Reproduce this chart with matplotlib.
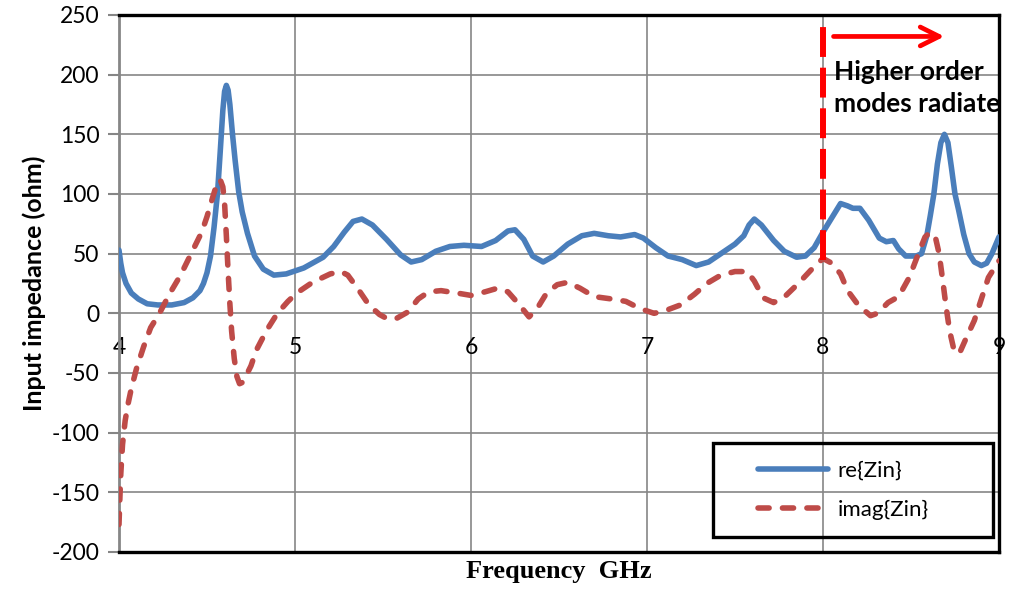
import numpy as np
import matplotlib.pyplot as plt
from matplotlib.patches import Rectangle

# --- data ---
freq_re = [4.00, 4.01, 4.02, 4.04, 4.07, 4.11, 4.16, 4.22, 4.30, 4.37, 4.42, 4.46, 4.48, 4.50,
           4.52, 4.54, 4.56, 4.575, 4.59, 4.60, 4.61, 4.62, 4.63, 4.645, 4.66, 4.68, 4.70, 4.73,
           4.77, 4.82, 4.88, 4.95, 5.05, 5.16, 5.22, 5.28, 5.33, 5.38, 5.44,
           5.52, 5.60, 5.66, 5.72, 5.80, 5.88, 5.96, 6.06, 6.14, 6.21, 6.25, 6.30, 6.35, 6.41,
           6.47, 6.55, 6.63, 6.70, 6.78, 6.85, 6.93, 6.98, 7.05, 7.12, 7.20, 7.28, 7.35, 7.42,
           7.50, 7.55, 7.58, 7.61, 7.65, 7.72, 7.78, 7.85, 7.90, 7.95, 8.00, 8.05, 8.10, 8.14,
           8.17, 8.21, 8.26, 8.32, 8.36, 8.40, 8.43, 8.47, 8.53, 8.56, 8.59, 8.61, 8.63, 8.65,
           8.67, 8.69, 8.71, 8.73, 8.75, 8.77, 8.80, 8.83, 8.86, 8.90, 8.93, 8.96, 9.00]
re_zin = [53, 42, 34, 25, 17, 12, 8, 7, 7, 9, 13, 19, 25, 34,
          48, 72, 101, 135, 170, 186, 191, 187, 175, 150, 128, 102, 85, 67,
          48, 37, 32, 33, 38, 47, 56, 68, 77, 79, 74,
          62, 49, 43, 45, 52, 56, 57, 56, 61, 69, 70, 62, 48, 43,
          48, 58, 65, 67, 65, 64, 66, 63, 55, 48, 45, 40, 43, 50,
          58, 65, 74, 79, 74, 61, 52, 47, 48, 55, 68, 80, 92, 90,
          88, 88, 78, 63, 60, 61, 54, 48, 48, 50, 65, 82, 100, 125,
          143, 150, 143, 122, 100, 87, 66, 50, 43, 40, 42, 50, 64]

freq_im = [4.00, 4.005, 4.01, 4.02, 4.035, 4.05, 4.07, 4.10, 4.14, 4.18, 4.23, 4.29, 4.35, 4.42,
           4.47, 4.50, 4.53, 4.555, 4.575, 4.59, 4.60, 4.61, 4.62, 4.63, 4.64, 4.655, 4.67, 4.685,
           4.70, 4.72, 4.75, 4.78, 4.84, 4.90,
           4.96, 5.01, 5.10, 5.20, 5.26, 5.30, 5.36, 5.42, 5.48, 5.53, 5.58, 5.64, 5.70, 5.76,
           5.83, 5.92, 6.00, 6.08, 6.15, 6.21, 6.27, 6.33, 6.38, 6.43, 6.49, 6.55, 6.62, 6.70,
           6.80, 6.88, 6.96, 7.04, 7.10, 7.19, 7.27, 7.34, 7.42, 7.50, 7.57, 7.61, 7.66, 7.72,
           7.79, 7.86, 7.93, 8.00, 8.05, 8.10, 8.14, 8.20, 8.27, 8.31, 8.37, 8.43, 8.49, 8.55,
           8.58, 8.61, 8.64, 8.66, 8.68, 8.70, 8.72, 8.74, 8.76, 8.78, 8.81, 8.86, 8.90, 8.94, 9.00]
im_zin = [-177, -155, -135, -110, -90, -77, -63, -46, -28, -12, 0, 17, 32, 53,
          68, 81, 96, 108, 112, 106, 92, 65, 35, 8, -15, -38, -53, -59,
          -58, -53, -44, -31, -14, 0,
          10, 17, 26, 33, 35, 32, 20, 7, -1, -5, -4, 1, 12, 18,
          19, 17, 15, 18, 21, 18, 8, -3, 5, 17, 24, 26, 21, 14,
          12, 10, 4, 0, 2, 7, 16, 25, 32, 35, 35, 27, 13, 9,
          15, 25, 36, 46, 42, 33, 19, 7, -2, 0, 9, 14, 30, 53,
          64, 68, 63, 50, 28, 5, -15, -28, -34, -32, -22, -6, 12, 30, 44]

freq_ticks = [4, 5, 6, 7, 8, 9]
imp_ticks = [-200, -150, -100, -50, 0, 50, 100, 150, 200, 250]

cutoff_freq = 8.0
cutoff_span = (45, 242)
arrow_span = (8.06, 8.69)
arrow_level = 232

plt.rcParams['font.family'] = ['Lato', 'DejaVu Sans']
plt.rcParams['axes.unicode_minus'] = False

fig = plt.figure(figsize=(10.11, 5.92), dpi=100)
ax = fig.add_axes([0.1177, 0.0676, 0.8704, 0.9071])

ax.plot(freq_re, re_zin, color='#4A7EBB', lw=4.0, solid_capstyle='round',
        solid_joinstyle='round', label='re{Zin}', zorder=3)
ax.plot(freq_im, im_zin, color='#BE4B48', lw=4.0, dashes=(2.0, 2.4),
        dash_capstyle='round', label='imag{Zin}', zorder=3)

# cutoff marker + arrow
ax.plot([cutoff_freq, cutoff_freq], cutoff_span, color='red', lw=4.3,
        dashes=(5, 1.8), zorder=4)
ax.annotate('', xy=(arrow_span[1], arrow_level), xytext=(arrow_span[0], arrow_level),
            arrowprops=dict(arrowstyle='->', color='red', lw=3.4, mutation_scale=34,
                            shrinkA=0, shrinkB=0), zorder=4)
ax.text(8.06, 212, 'Higher order\nmodes radiate', fontsize=19, fontweight='bold',
        ha='left', va='top', linespacing=1.38, zorder=5)

ax.set_xlim(4, 9)
ax.set_ylim(-200, 250)
ax.set_xticks(freq_ticks)
ax.set_xticklabels([])
ax.set_yticks(imp_ticks)
ax.tick_params(axis='x', length=0)
ax.tick_params(axis='y', length=8, width=1.5, color='#868686', labelsize=16.5, pad=6)
ax.grid(True, color='#868686', lw=1.2)
ax.set_axisbelow(True)

# x tick labels sit just under the zero line (Excel style)
for f in freq_ticks:
    ax.annotate(str(f), xy=(f, 0), xytext=(0, -17), textcoords='offset points',
                ha='center', va='top', fontsize=16.5, zorder=2)

for side in ['top', 'right', 'bottom']:
    ax.spines[side].set_color('black')
    ax.spines[side].set_linewidth(2.4)
ax.spines['left'].set_color('#868686')
ax.spines['left'].set_linewidth(2.0)

ax.set_ylabel('Input impedance (ohm)', fontsize=18, fontweight='bold', labelpad=4)
ax.set_xlabel('Frequency  GHz', fontsize=19, fontweight='bold',
              family=['Liberation Serif', 'DejaVu Serif'], labelpad=2)

# legend: transparent box drawn separately so the padding matches
ax.add_patch(Rectangle((0.675, 0.028), 0.318, 0.175, transform=ax.transAxes,
                       fill=False, edgecolor='black', lw=2.4, zorder=6))
leg = ax.legend(loc='center left', bbox_to_anchor=(0.726, 0.1145), frameon=False,
                fontsize=16, handlelength=3.15, handletextpad=0.45, borderpad=0,
                borderaxespad=0, labelspacing=0.85)
leg.set_zorder(6)

fig.savefig('out.png', dpi=100)
